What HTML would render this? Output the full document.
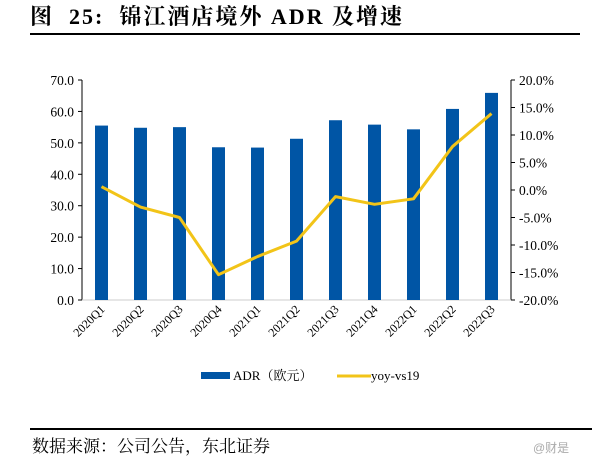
<!DOCTYPE html>
<html><head><meta charset="utf-8"><style>
body{margin:0;background:#fff;width:604px;height:471px;overflow:hidden;font-family:"Liberation Serif","Noto Serif CJK SC",serif;}
</style></head><body>
<svg width="604" height="471" xmlns="http://www.w3.org/2000/svg">
<text x="30" y="24" font-size="22" font-weight="bold" letter-spacing="2" xml:space="preserve" font-family="Liberation Serif, Noto Serif CJK SC, serif">图  25:  锦江酒店境外 ADR 及增速</text>
<line x1="30" y1="34" x2="580" y2="34" stroke="#000" stroke-width="2"/>
<g id="plot"></g>
<g>
<rect x="201" y="372" width="29" height="7" fill="#0055a5"/>
<text x="233" y="380" font-size="13">ADR（欧元）</text>
<line x1="337" y1="376" x2="371" y2="376" stroke="#f2c418" stroke-width="3"/>
<text x="371" y="380" font-size="13">yoy-vs19</text>
</g>
<line x1="30" y1="429" x2="592" y2="429" stroke="#000" stroke-width="2"/>
<text x="32" y="452" font-size="17">数据来源：公司公告，东北证券</text>
<text x="533" y="452" font-size="12" fill="#aaa" font-family="Liberation Sans, Noto Sans CJK SC, sans-serif">@财是</text>
</svg>
<script>
const categories=["2020Q1","2020Q2","2020Q3","2020Q4","2021Q1","2021Q2","2021Q3","2021Q4","2022Q1","2022Q2","2022Q3"];
const adrValues=[55.5,54.8,55.0,48.6,48.5,51.3,57.2,55.8,54.3,60.8,65.9];
const yoyValues=[0.6,-3.1,-5.0,-15.4,-12.1,-9.3,-1.2,-2.6,-1.6,7.9,13.9];
const leftTicks=[0,10,20,30,40,50,60,70];
const rightTicks=[-20,-15,-10,-5,0,5,10,15,20];
const NS="http://www.w3.org/2000/svg";
const g=document.getElementById('plot');
const X0=82,X1=511,Y0=300,Y1=80;
const yL=v=>Y0-(v/70)*(Y0-Y1);
const yR=v=>Y0-((v+20)/40)*(Y0-Y1);
const step=(X1-X0)/categories.length;
const xC=i=>X0+step*(i+0.5);
function mk(t,a){const e=document.createElementNS(NS,t);for(const k in a)e.setAttribute(k,a[k]);g.appendChild(e);return e;}
let e=mk('line',{x1:X0,y1:Y1,x2:X0,y2:Y0,stroke:'#000','stroke-width':1});


e=mk('line',{x1:X1,y1:Y1,x2:X1,y2:Y0,stroke:'#000','stroke-width':1});


e=mk('line',{x1:X0,y1:Y0,x2:X1,y2:Y0,stroke:'#ccc','stroke-width':1});


leftTicks.forEach(v=>{
 const y=yL(v);
 let t=mk('line',{x1:X0-4,y1:y,x2:X0,y2:y,stroke:'#000'});
 
 
 let tx=mk('text',{x:X0-8,y:y+5,'text-anchor':'end','font-size':13.5});
 tx.textContent=v.toFixed(1);
 
 
});
rightTicks.forEach(v=>{
 const y=yR(v);
 let t=mk('line',{x1:X1,y1:y,x2:X1+4,y2:y,stroke:'#000'});
 
 
 let tx=mk('text',{x:X1+8,y:y+5,'font-size':13.5});
 tx.textContent=v.toFixed(1)+'%';
 
 
});
adrValues.forEach((v,i)=>{
 let r=mk('rect',{x:xC(i)-6.5,y:yL(v),width:13,height:Y0-yL(v),fill:'#0055a5'});
 
 
});
categories.forEach((c,i)=>{
 const x=xC(i)+4,y=Y0+10;
 let tx=mk('text',{x:x,y:y,'text-anchor':'end','font-size':12,transform:`rotate(-45 ${x} ${y})`});
 tx.textContent=c;
 
 
});
let p=mk('polyline',{points:yoyValues.map((v,i)=>xC(i)+','+yR(v)).join(' '),fill:'none',stroke:'#f2c418','stroke-width':3,'stroke-linejoin':'round'});


</script>
</body></html>
